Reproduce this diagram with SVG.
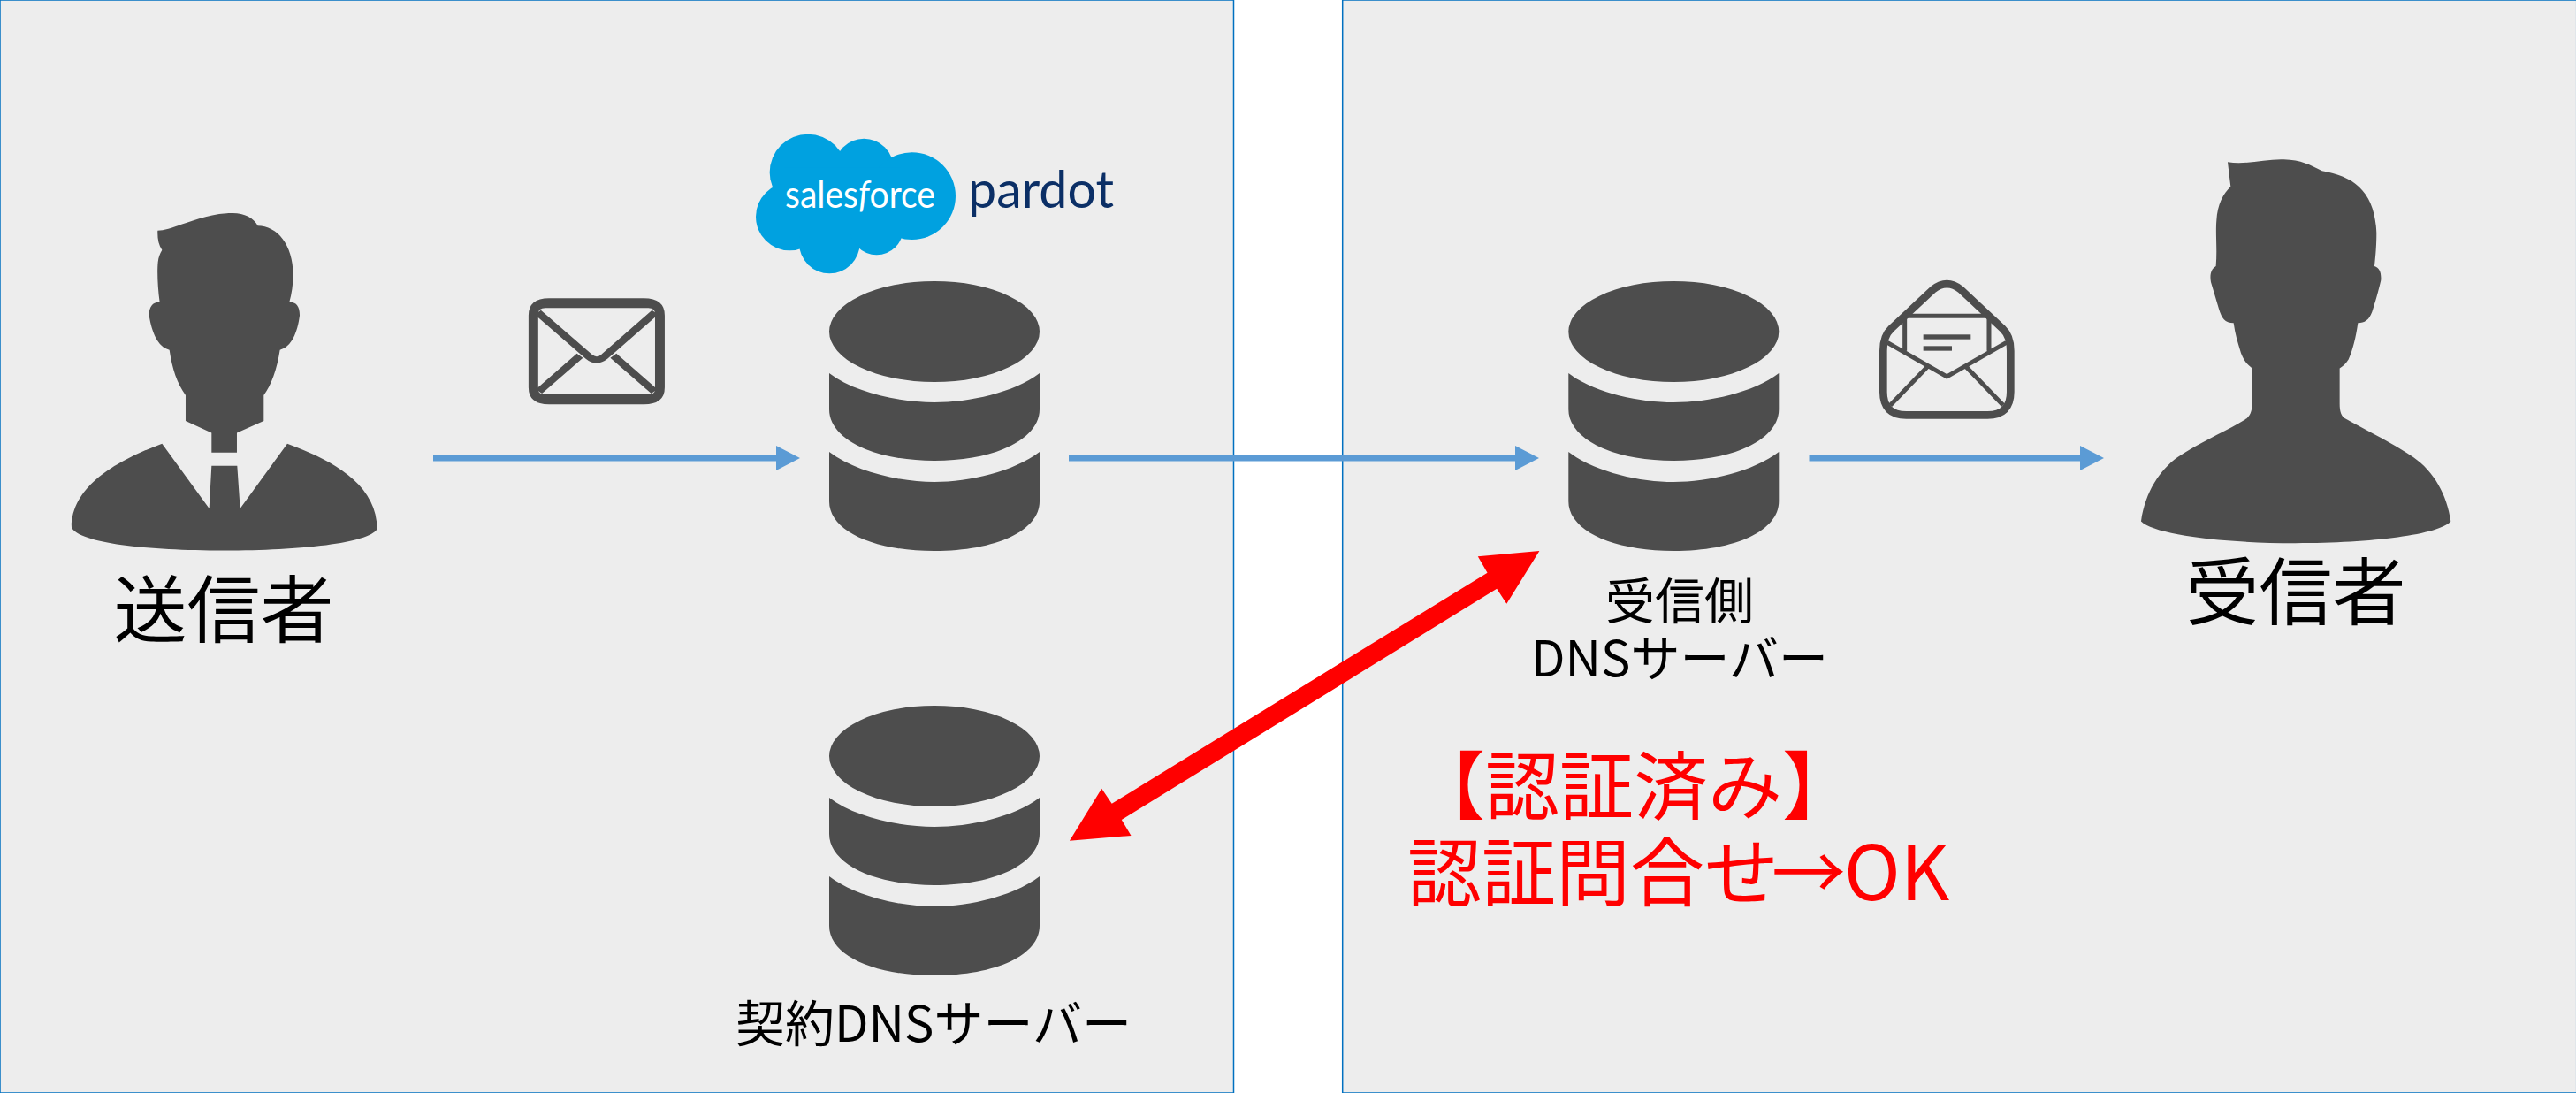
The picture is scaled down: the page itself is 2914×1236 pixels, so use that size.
<svg xmlns="http://www.w3.org/2000/svg" width="2914" height="1236" viewBox="0 0 2914 1236">
<style>
.panel{fill:#ededed;stroke:#0070c0;stroke-width:1.5}
.ic{fill:#4d4d4d}
.t{font-family:"Noto Sans CJK JP","Noto Sans",sans-serif;fill:#000}
.r{fill:#f00;font-size:84px;font-family:"Noto Sans CJK JP","Noto Sans",sans-serif}
.blue{stroke:#5b9bd5;stroke-width:7;fill:none}
.st{fill:none;stroke:#4d4d4d}
</style>
<defs>
<marker id="ah" markerUnits="userSpaceOnUse" markerWidth="30" markerHeight="30" refX="1" refY="14" orient="auto"><path d="M0 0L27 14L0 28Z" fill="#5b9bd5"/></marker>
<path id="db" d="M119 57A119 57 0 1 1 -119 57A119 57 0 1 1 119 57ZM-119 104C-90 126 -40 137 0 137C40 137 90 126 119 104V145C119 178 70 203 0 203C-70 203 -119 178 -119 145ZM-119 193C-90 215 -40 227 0 227C40 227 90 215 119 193V249C119 282 70 305 0 305C-70 305 -119 282 -119 249Z"/>
</defs>
<rect class="panel" x="0" y="0" width="1395.5" height="1236"/>
<rect class="panel" x="1518.7" y="0" width="1396" height="1236"/>
<g id="connectors">
<path class="blue" d="M490 518H879" marker-end="url(#ah)"/>
<path class="blue" d="M1209 518H1715" marker-end="url(#ah)"/>
<path class="blue" d="M2046.5 518H2354" marker-end="url(#ah)"/>
<path fill="#f00" d="M1741.4 623L1671.8 629.3L1682.5 647.7L1257.7 908.7L1246.2 891.7L1209.9 950.7L1279.5 945L1268.8 927L1693.2 665.7L1704.3 682.7Z"/>
</g>
<g id="sender">
<g transform="translate(40 200) scale(.3333 .3571)"><path class="ic" d="M415 170C470 170 560 115 670 115C710 115 740 130 755 155C820 155 875 215 875 310C875 340 870 370 862 397C885 395 898 410 897 440C890 490 870 540 830 548C820 610 800 660 775 692L775 773L684 811L684 873L598 873L598 811L510 773L510 692C480 650 465 610 455 548C415 540 395 490 386 440C385 410 400 395 422 397C415 350 413 300 416 270C418 255 422 245 430 232C418 215 414 195 415 170Z"/><path class="ic" d="M430 845L590 1050L598 915L685 915L695 1050L855 845C1000 895 1160 970 1160 1115C1130 1160 900 1183 640 1183C380 1183 150 1160 123 1110C123 970 300 890 430 845Z"/></g>
<text class="t" x="253" y="720" font-size="83" text-anchor="middle">送信者</text>
</g>
<g id="mail-closed"><g transform="translate(560 310) scale(.4209 .3333)">
<path class="ic" fill-rule="evenodd" d="M145 82H400Q456 82 456 140V385Q456 442 400 442H145Q90 442 90 385V140Q90 82 145 82ZM135 115Q116 115 116 135V390Q116 408 135 408H412Q430 408 430 390V135Q430 115 412 115Z"/>
<path class="st" stroke-width="22" d="M115 130L252 280Q273 302 294 280L430 130M228 277L118 398M318 277L428 398"/>
</g></g>
<g id="pardot-db">
<g transform="translate(820 130)"><g fill="#00a1e0" transform="scale(.3333)"><circle cx="282" cy="195" r="130"/><circle cx="472" cy="180" r="100"/><circle cx="635" cy="275" r="148"/><circle cx="220" cy="345" r="115"/><circle cx="355" cy="435" r="103"/><circle cx="515" cy="385" r="90"/><rect x="200" y="180" width="400" height="220"/></g>
<text x="68" y="105" font-family="Lato,sans-serif" font-size="43" fill="#fff" textLength="170" lengthAdjust="spacingAndGlyphs">sales<tspan font-style="italic">f</tspan>orce</text>
<text x="275" y="105" font-family="Lato,sans-serif" font-size="58" fill="#0b2f66" textLength="165" lengthAdjust="spacingAndGlyphs">pardot</text></g>
<use href="#db" class="ic" x="1057" y="318"/>
</g>
<g id="contract-dns"><use href="#db" class="ic" x="1057" y="798"/>
<text class="t" x="1056" y="1178" font-size="56" text-anchor="middle">契約DNSサーバー</text></g>
<g id="recv-dns"><use href="#db" class="ic" x="1893.3" y="318"/>
<text class="t" x="1900" y="700" font-size="56" text-anchor="middle">受信側</text>
<text class="t" x="1900" y="765" font-size="56" text-anchor="middle">DNSサーバー</text></g>
<g id="mail-open"><g transform="translate(2080 300) scale(.3333)">
<path class="st" stroke-width="26" stroke-linejoin="round" d="M151 290Q151 240 178 215L320 82Q367 45 414 82L556 215Q583 240 583 290V430Q583 508 505 508H229Q151 508 151 430Z"/>
<path class="st" stroke-width="15" d="M165 262L367 378L569 262M300 345L175 475M433 345L558 475M224 290V172H510V290"/>
<rect class="ic" x="287" y="235" width="161" height="16"/><rect class="ic" x="287" y="274" width="97" height="16"/>
</g></g>
<g id="receiver">
<g transform="translate(2400 160) scale(.3333 .3571)"><path class="ic" d="M360 65C420 75 490 55 550 57C610 58 640 75 680 93C790 110 860 160 865 290C865 330 862 360 858 395C875 400 882 415 880 440C870 480 860 510 850 540C840 565 825 575 802 575C795 620 785 660 770 690C760 705 750 712 740 718L740 830C740 855 745 870 760 878C830 915 920 955 990 1000C1060 1045 1105 1120 1117 1203C1080 1245 850 1272 590 1272C340 1272 110 1245 66 1203C80 1110 130 1040 190 1000C260 955 350 920 420 880C435 870 443 855 443 830L443 718C425 705 415 695 405 670C395 640 385 610 380 575C350 575 340 560 330 530L303 445C298 420 305 403 320 395C325 340 318 290 322 250C325 200 345 165 370 143Z"/></g>
<text class="t" x="2597" y="700" font-size="83" text-anchor="middle">受信者</text>
</g>
<g id="auth-label"><text class="r" x="1596" y="920">【認証済み】</text><text class="r" x="1592" y="1018">認証問合せ<tspan x="2004">→</tspan><tspan x="2086" font-size="86">OK</tspan></text></g>
</svg>
